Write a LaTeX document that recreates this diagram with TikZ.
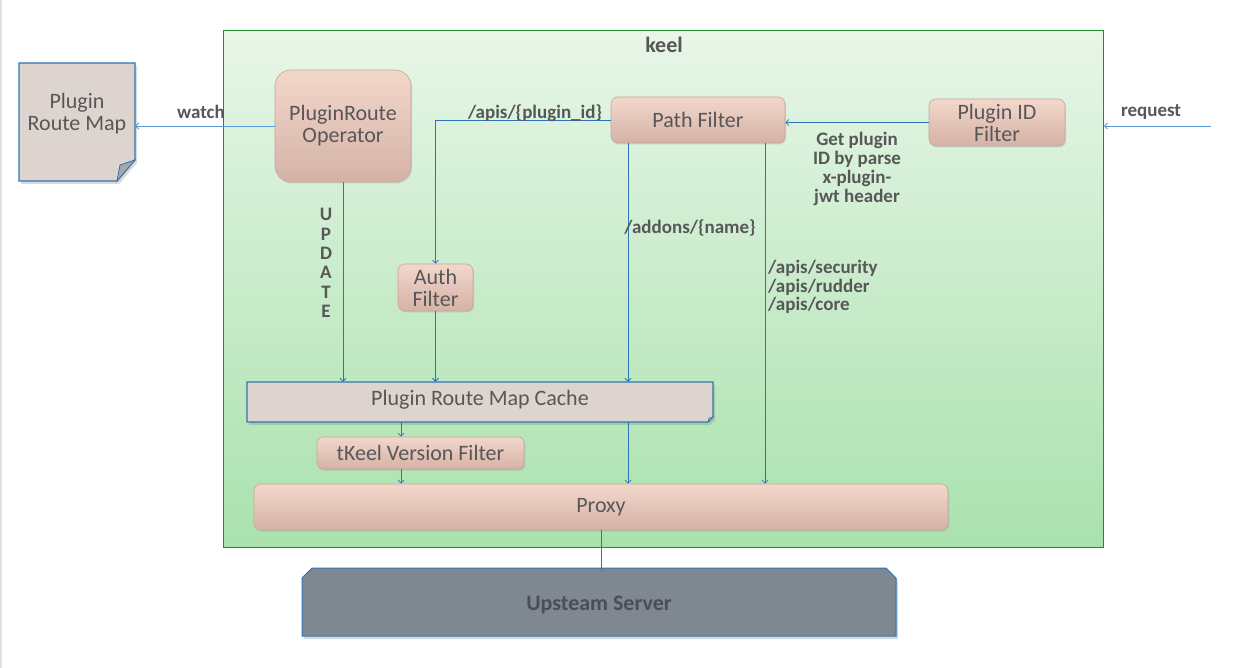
\documentclass[tikz,border=0pt]{standalone}
\usepackage{fontspec}
\setmainfont{Carlito}
\usetikzlibrary{arrows.meta,shadows}
\definecolor{txt}{HTML}{575757}
\definecolor{lineblue}{HTML}{2E75B6}
\definecolor{lightblue}{HTML}{5B9BD5}
\definecolor{kborder}{HTML}{1E8C2E}
\definecolor{ktop}{HTML}{E8F6E8}
\definecolor{kbot}{HTML}{A9E1AD}
\definecolor{boxtop}{HTML}{F3D7CB}
\definecolor{boxbot}{HTML}{D5B2A6}
\definecolor{boxborder}{HTML}{C9A79A}
\definecolor{docfill}{HTML}{DDD4CF}
\definecolor{foldfill}{HTML}{ABA7A6}
\definecolor{upfill}{HTML}{7F8791}
\definecolor{uptxt}{HTML}{4A4E55}
\tikzset{
  box/.style={draw=boxborder, line width=0.6pt, top color=boxtop, bottom color=boxbot,
    text=txt, font=\fontsize{22}{22}\selectfont, align=center, inner sep=0pt,
    drop shadow={shadow xshift=1.2pt, shadow yshift=-1.5pt, opacity=0.25}},
  lbl/.style={text=txt, font=\fontsize{19}{19}\selectfont\bfseries, inner sep=0pt},
  plain/.style={text=txt, font=\fontsize{22}{22}\selectfont, align=center, inner sep=0pt},
  arr/.style={draw=lineblue, line width=0.8pt, -{Straight Barb[length=3pt,width=6pt]}},
  conn/.style={draw=lineblue, line width=0.8pt},
  docshape/.style={fill=docfill, draw=lineblue, line width=1.2pt, line join=miter},
  fold/.style={fill=foldfill, draw=lineblue, line width=0.8pt}
}
\begin{document}
\begin{tikzpicture}[x=1pt,y=-1pt]
\useasboundingbox (0,0) rectangle (1254,668);
\fill[white] (0,0) rectangle (1254,668);
\fill[black!12] (0,0) rectangle (2,668);

% keel container
\node[draw=kborder, line width=0.9pt, top color=ktop, bottom color=kbot,
      minimum width=880pt, minimum height=517pt, anchor=north west, inner sep=0pt] (keel) at (223,30) {};
\node[lbl, font=\fontsize{22}{22}\selectfont\bfseries] (keeltitle) at (664,45) {keel};

% Plugin Route Map document
\fill[black, opacity=0.15] (21,66) -- (137,66) -- (137,163) -- (119,184) -- (21,184) -- cycle;
\path[docshape] (19,63) -- (135,63) -- (135,160) -- (117,181) -- (19,181) -- cycle;
\path[fold] (135,160) -- (120,165) -- (117,181) -- cycle;
\node[minimum width=116pt, minimum height=118pt, inner sep=0pt] (map) at (77,122) {};
\node[plain] (maptext) at (77,114) {Plugin\\Route Map};

% boxes
\node[box, rounded corners=16pt, minimum width=136pt, minimum height=112pt] (op) at (343,126) {PluginRoute\\Operator};
\node[box, rounded corners=7pt, minimum width=174pt, minimum height=46pt] (pf) at (698,120) {Path Filter};
\node[box, rounded corners=7pt, minimum width=136pt, minimum height=47pt] (pid) at (997,122.5) {Plugin ID\\Filter};
\node[box, rounded corners=7pt, minimum width=75pt, minimum height=47pt] (auth) at (435.5,287.5) {Auth\\Filter};
\node[box, rounded corners=6pt, minimum width=207pt, minimum height=32pt] (tk) at (420.5,453) {tKeel Version Filter};
\node[box, rounded corners=7pt, minimum width=694pt, minimum height=46pt] (proxy) at (601,507) {Proxy};

% Plugin Route Map Cache document
\fill[black, opacity=0.12] (249,385) -- (715,385) -- (715,420) -- (710,425) -- (249,425) -- cycle;
\path[docshape] (247,382) -- (713,382) -- (713,417) -- (708,422) -- (247,422) -- cycle;
\path[fold, line width=0.6pt] (713,417) -- (709,418) -- (708,422) -- cycle;
\node[minimum width=466pt, minimum height=40pt, inner sep=0pt] (cache) at (480,402) {};
\node[plain] (cachetext) at (480,399.5) {Plugin Route Map Cache};

% Upstream server
\fill[black, opacity=0.15] (304,581) -- (314,571) -- (888,571) -- (898,581) -- (898,639) -- (304,639) -- cycle;
\path[fill=upfill, draw=lineblue, line width=1pt] (302,578) -- (312,568) -- (886,568) -- (896,578) -- (896,636) -- (302,636) -- cycle;
\node[minimum width=594pt, minimum height=68pt, inner sep=0pt, text=uptxt,
      font=\fontsize{22}{22}\selectfont\bfseries] (up) at (599,605) {Upsteam Server};

% helper coordinates
\coordinate (xa) at (628,0);
\coordinate (xb) at (765,0);
\coordinate (xc) at (401,0);
\coordinate (req) at (1211,126);

% connectors
\draw[arr, draw=lightblue] (op.west) -- (op.west -| map.east);
\draw[arr] (pid.west) -- (pid.west -| pf.east);
\draw[arr, draw=lightblue] (req) -- (req -| keel.east);
\draw[arr] (pf.west) -| (auth.north);
\draw[arr] (op.south) -- (op.south |- cache.north);
\draw[arr] (auth.south) -- (auth.south |- cache.north);
\draw[arr] (pf.south -| xa) -- (cache.north -| xa);
\draw[arr] (pf.south -| xb) -- (proxy.north -| xb);
\draw[arr] (cache.south -| xa) -- (proxy.north -| xa);
\draw[arr] (cache.south -| xc) -- (tk.north -| xc);
\draw[arr] (tk.south -| xc) -- (proxy.north -| xc);
\draw[conn] (proxy.south) -- (proxy.south |- up.north);

% labels
\node[lbl] (watchlbl) at (201,112) {watch};
\node[lbl] (requestlbl) at (1151,112) {request};
\node[lbl] (apislbl) at (535,113) {/apis/\{plugin\_id\}};
\node[lbl] (addonslbl) at (690,228) {/addons/\{name\}};
\node[lbl, align=left, anchor=west, font=\fontsize{19}{18.6}\selectfont\bfseries] (corelbl) at (768,287) {/apis/security\\/apis/rudder\\/apis/core};
\node[lbl, align=center] (getlbl) at (857,169) {Get plugin\\ID by parse\\x-plugin-\\jwt header};
\node[lbl, align=center, font=\fontsize{19}{19.3}\selectfont\bfseries] (updlbl) at (326,263) {U\\P\\D\\A\\T\\E};
\end{tikzpicture}
\end{document}
